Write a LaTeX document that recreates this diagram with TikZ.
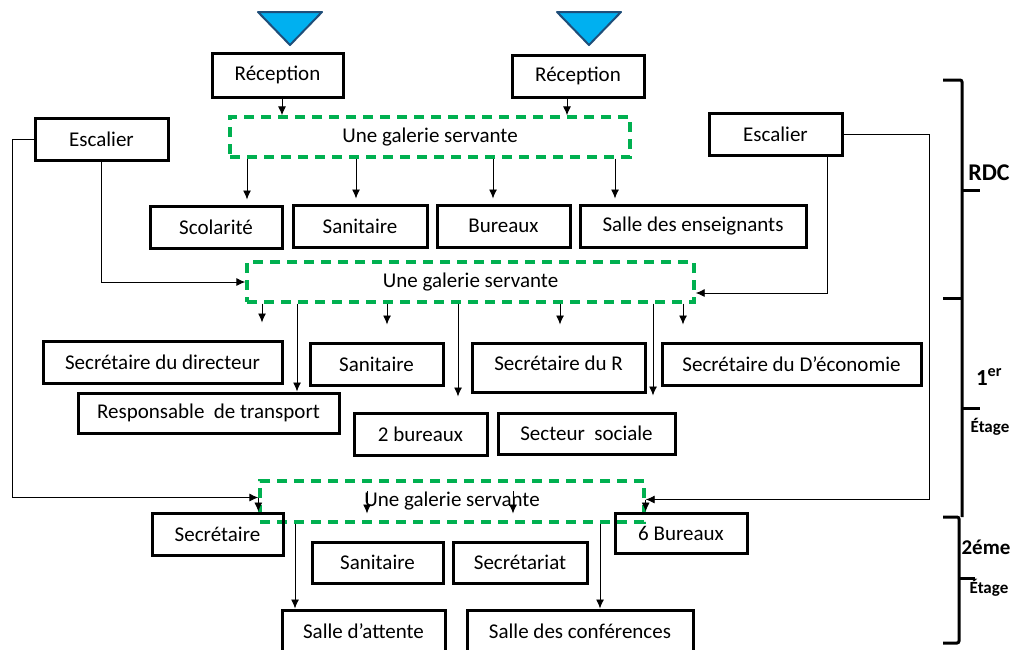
\documentclass[tikz,border=0pt]{standalone}
\usepackage{fontspec}
\setmainfont{Carlito}
\usepackage{tikz}
\usetikzlibrary{arrows,arrows.meta,positioning}
\definecolor{galvert}{RGB}{0,176,80}
\definecolor{bleuciel}{RGB}{0,176,240}
\definecolor{bleufonce}{RGB}{31,78,121}
\tikzstyle{piece} = [draw, rectangle, line width=3pt, inner sep=0pt,
    minimum height=42pt]
\tikzstyle{galerie} = [draw=galvert, rectangle, line width=3.4pt,
    dash pattern=on 10pt off 7pt, inner sep=0pt, minimum height=40pt]
\tikzstyle{fleche} = [-{Latex[length=9pt,width=8pt]}, line width=0.9pt]
\tikzstyle{accolade} = [line width=3pt, rounded corners=2pt]
\tikzstyle{entree} = [fill=bleuciel, draw=bleufonce, line width=2pt, line join=round]

\begin{document}
\begin{tikzpicture}[x=1pt, y=-1pt, font=\fontsize{21}{24}\selectfont]
  \path[use as bounding box, clip] (0,0) rectangle (1020,649);
  % entrees
  \filldraw[entree] (258,12) -- (322,12) -- (290,45) -- cycle;
  \filldraw[entree] (557,12) -- (621,12) -- (589,45) -- cycle;
  % RDC
  \node [piece, minimum width=131pt, minimum height=44pt] (rec1) at (277.5,75) {Réception};
  \node [piece, minimum width=132pt] (rec2) at (578,76) {Réception};
  \node [piece, minimum width=133pt] (esc1) at (101.5,139) {Escalier};
  \node [piece, minimum width=133pt] (esc2) at (775.5,134) {Escalier};
  \node [galerie, minimum width=400pt] (gal1) at (430,137) {Une galerie servante};
  \node [piece, minimum width=132pt] (scol) at (216,227) {Scolarité};
  \node [piece, minimum width=134pt] (san1) at (360,226) {Sanitaire};
  \node [piece, minimum width=133pt] (bur) at (503.5,226) {Bureaux};
  \node [piece, minimum width=226pt] (sens) at (693,226) {Salle des enseignants};
  % 1er etage
  \node [galerie, minimum width=447pt] (gal2) at (470.5,282) {Une galerie servante};
  \node [piece, minimum width=239pt] (sdir) at (162.5,362) {Secrétaire du directeur};
  \node [piece, minimum width=133pt] (san2) at (376.5,364) {Sanitaire};
  \node [piece, minimum width=173pt, minimum height=49pt, text depth=8pt] (secr) at (558.5,367.5) {Secrétaire du R};
  \node [piece, minimum width=259pt] (seco) at (791.5,364) {Secrétaire du D’économie};
  \node [piece, minimum width=261pt, minimum height=40pt] (resp) at (208.5,413) {Responsable\ \ de transport};
  \node [piece, minimum width=133pt] (bur2) at (420.5,434) {2 bureaux};
  \node [piece, minimum width=177pt, minimum height=41pt] (soc) at (586.5,433.5) {Secteur\ \ sociale};
  % 2eme etage
  \node [galerie, minimum width=384pt, minimum height=41pt] (gal3) at (452,501.5) {Une galerie servante};
  \node [piece, minimum width=131pt] (sect) at (217.5,534) {Secrétaire};
  \node [piece, minimum width=132pt, minimum height=40pt] (bur6) at (681,533) {6 Bureaux};
  \node [piece, minimum width=131pt, minimum height=41pt] (san3) at (377.5,562.5) {Sanitaire};
  \node [piece, minimum width=134pt, minimum height=41pt] (sectt) at (520,562.5) {Secrétariat};
  \node [piece, minimum width=163pt] (att) at (363.5,631) {Salle d’attente};
  \node [piece, minimum width=226pt] (conf) at (580,631) {Salle des conférences};

  \draw [fleche] (282,0 |- rec1.south) -- (282,0 |- gal1.north);
  \draw [fleche] (567,0 |- rec2.south) -- (567,0 |- gal1.north);
  \foreach \x/\n in {247/scol, 356/san1, 493/bur, 615/sens}
    \draw [fleche, shorten >=5pt] (\x,0 |- gal1.south) -- (\x,0 |- \n.north);

  \draw [fleche] (esc1.south) |- (gal2.west);
  \draw [fleche] (827,0 |- esc2.south) |- ([yshift=-11pt]gal2.east);
  \draw [fleche] (esc1.west) -- (12,0 |- esc1.west) |- ([yshift=4pt]gal3.west);
  \draw [fleche] (esc2.east) -- (929,0 |- esc2.east) |- ([yshift=2pt]gal3.east);

  \foreach \x/\n in {262/sdir, 387/san2, 560/secr, 683/seco}
    \draw [fleche, shorten >=17pt] (\x,0 |- gal2.south) -- (\x,0 |- \n.north);
  \draw [fleche] (297,0 |- gal2.south) -- (297,0 |- resp.north);
  \draw [fleche, shorten >=15pt] (458,0 |- gal2.south) -- (458,0 |- bur2.north);
  \draw [fleche, shorten >=16pt] (653,0 |- gal2.south) -- (653,0 |- soc.north);

  \draw [fleche] ([yshift=4pt]gal3.west) -- (gal3.west |- sect.north);
  \draw [fleche] ([yshift=2pt]gal3.east) -- (gal3.east |- bur6.north);
  \draw [fleche, shorten <=12pt, shorten >=27pt] (367,0 |- gal3.north) -- (367,0 |- san3.north);
  \draw [fleche, shorten <=12pt, shorten >=27pt] (513,0 |- gal3.north) -- (513,0 |- sectt.north);
  \draw [fleche] (295,0 |- gal3.south) -- (295,0 |- att.north);
  \draw [fleche] (600,0 |- gal3.south) -- (600,0 |- conf.north);

  % niveaux
  \draw [accolade] (943,80) -- (962,80) -- (962,517);
  \draw [accolade] (962,190) -- (980,190);
  \draw [accolade] (962,298) -- (943,298);
  \draw [accolade] (962,408) -- (980,408);
  \draw [accolade] (943,517) -- (959,517) -- (959,643) -- (943,643);
  \draw [accolade] (959,578) -- (975,578);
  \node [font=\fontsize{24}{26}\selectfont\bfseries] (rdc) at (989,173) {RDC};
  \node [font=\fontsize{23}{26}\selectfont\bfseries] (n1) at (989,377) {1\textsuperscript{er}};
  \node [font=\fontsize{17}{20}\selectfont\bfseries] (e1) at (990,427) {Étage};
  \node [font=\fontsize{21}{24}\selectfont\bfseries] (n2) at (986,547) {2éme};
  \node [font=\fontsize{17}{20}\selectfont\bfseries] (e2) at (989,588) {Étage};
\end{tikzpicture}
\end{document}
